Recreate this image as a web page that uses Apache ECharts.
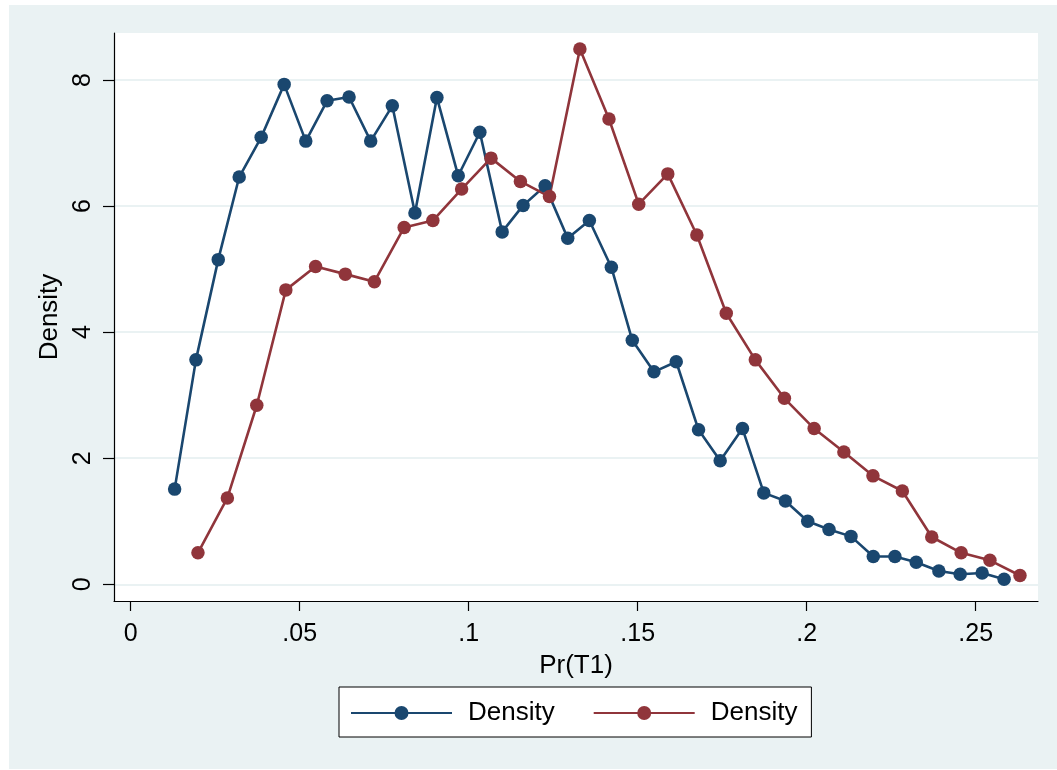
<!DOCTYPE html>
<html>
<head>
<meta charset="utf-8">
<script src="https://cdn.jsdelivr.net/npm/echarts@6/dist/echarts.min.js"></script>
<style>
html,body{margin:0;padding:0;background:#fff;}
#chart{width:1057px;height:770px;}
</style>
</head>
<body>
<div id="chart"></div>
<script>
// Series 1 (blue)
const blueX = [0.0130,0.0193,0.0259,0.0321,0.0386,0.0454,0.0518,0.0581,0.0646,0.0710,0.0774,0.0841,0.0906,0.0969,0.1033,0.1099,0.1161,0.1226,0.1293,0.1357,0.1422,0.1484,0.1548,0.1614,0.1680,0.1744,0.1810,0.1873,0.1937,0.2003,0.2066,0.2131,0.2197,0.2261,0.2324,0.2391,0.2454,0.2519,0.2584];
const blueY = [1.51,3.56,5.15,6.46,7.09,7.93,7.03,7.67,7.73,7.03,7.59,5.89,7.72,6.48,7.17,5.59,6.01,6.32,5.49,5.77,5.03,3.87,3.37,3.53,2.45,1.96,2.47,1.45,1.32,1.00,0.87,0.76,0.44,0.44,0.35,0.21,0.16,0.18,0.08];
// Series 2 (red)
const redX = [0.0199,0.0286,0.0373,0.0459,0.0547,0.0635,0.0721,0.0809,0.0894,0.0979,0.1066,0.1153,0.1239,0.1329,0.1415,0.1503,0.1589,0.1675,0.1762,0.1848,0.1934,0.2022,0.2110,0.2196,0.2283,0.2370,0.2457,0.2542,0.2631];
const redY = [0.50,1.37,2.84,4.67,5.04,4.92,4.80,5.66,5.77,6.27,6.76,6.39,6.15,8.49,7.38,6.03,6.51,5.54,4.30,3.56,2.95,2.47,2.10,1.72,1.48,0.75,0.50,0.38,0.14];
// Ticks
const xTicks = [0, 0.05, 0.1, 0.15, 0.2, 0.25];
const xTickLabels = ['0', '.05', '.1', '.15', '.2', '.25'];
const yTicks = [0, 2, 4, 6, 8];
const yTickLabels = ['0', '2', '4', '6', '8'];
const seriesNames = ['Density', 'Density'];
const xTitle = 'Pr(T1)';
const yTitle = 'Density';

const FONT = '"Liberation Sans", Arial, Helvetica, sans-serif';
const BLUE = '#1a476f';
const RED = '#90353b';
const BG = '#eaf2f3';

function zip(xs, ys) { return xs.map((x, i) => [x, ys[i]]); }

const chart = echarts.init(document.getElementById('chart'), null, {renderer: 'canvas'});
chart.setOption({
  animation: false,
  backgroundColor: '#ffffff',
  textStyle: {fontFamily: FONT},
  graphic: {
    elements: [{
      type: 'rect', z: -100, silent: true,
      shape: {x: 9, y: 5, width: 1048, height: 764},
      style: {fill: BG}
    }]
  },
  grid: {
    left: 114, right: 19, top: 33, bottom: 169,
    show: true, backgroundColor: '#ffffff', borderWidth: 0
  },
  legend: {
    left: 339, top: 687,
    orient: 'horizontal',
    backgroundColor: '#ffffff',
    borderColor: '#000000', borderWidth: 1,
    padding: [12, 14, 10, 11],
    itemWidth: 101, itemHeight: 17.5,
    itemGap: 38,
    formatter: function (name) { return seriesNames[name === 's1' ? 0 : 1]; },
    textStyle: {fontFamily: FONT, fontSize: 26, color: '#000', padding: [2, 0, 0, 11], lineHeight: 26},
    data: ['s1', 's2']
  },
  xAxis: {
    type: 'value',
    min: -0.00494, max: 0.26843,
    name: xTitle, nameLocation: 'middle', nameGap: 52,
    nameTextStyle: {fontFamily: FONT, fontSize: 26, color: '#000'},
    axisLine: {show: true, onZero: false, lineStyle: {color: '#000', width: 1.2}},
    axisTick: {show: true, length: 10, lineStyle: {color: '#000', width: 1.2}, customValues: xTicks},
    axisLabel: {
      customValues: xTicks, margin: 21,
      fontFamily: FONT, fontSize: 25, color: '#000',
      formatter: function (v) { const i = xTicks.findIndex(t => Math.abs(t - v) < 1e-9); return i >= 0 ? xTickLabels[i] : ''; }
    },
    splitLine: {show: false}
  },
  yAxis: {
    type: 'value',
    min: -0.265, max: 8.745,
    name: yTitle, nameLocation: 'middle', nameGap: 44,
    nameTextStyle: {fontFamily: FONT, fontSize: 26, color: '#000'},
    axisLine: {show: true, onZero: false, lineStyle: {color: '#000', width: 1.2}},
    axisTick: {show: true, length: 11, lineStyle: {color: '#000', width: 1.2}, customValues: yTicks},
    axisLabel: {
      customValues: yTicks, margin: 18, rotate: 90,
      fontFamily: FONT, fontSize: 25, color: '#000',
      formatter: function (v) { const i = yTicks.findIndex(t => Math.abs(t - v) < 1e-9); return i >= 0 ? yTickLabels[i] : ''; }
    },
    splitLine: {show: true, lineStyle: {color: BG, width: 2}}
  },
  series: [
    {
      name: 's1', type: 'line', data: zip(blueX, blueY),
      symbol: 'circle', symbolSize: 13.5, showAllSymbol: true,
      lineStyle: {color: BLUE, width: 2.6},
      itemStyle: {color: BLUE},
      emphasis: {disabled: true}
    },
    {
      name: 's2', type: 'line', data: zip(redX, redY),
      symbol: 'circle', symbolSize: 13.5, showAllSymbol: true,
      lineStyle: {color: RED, width: 2.6},
      itemStyle: {color: RED},
      emphasis: {disabled: true}
    }
  ]
});
</script>
</body>
</html>
